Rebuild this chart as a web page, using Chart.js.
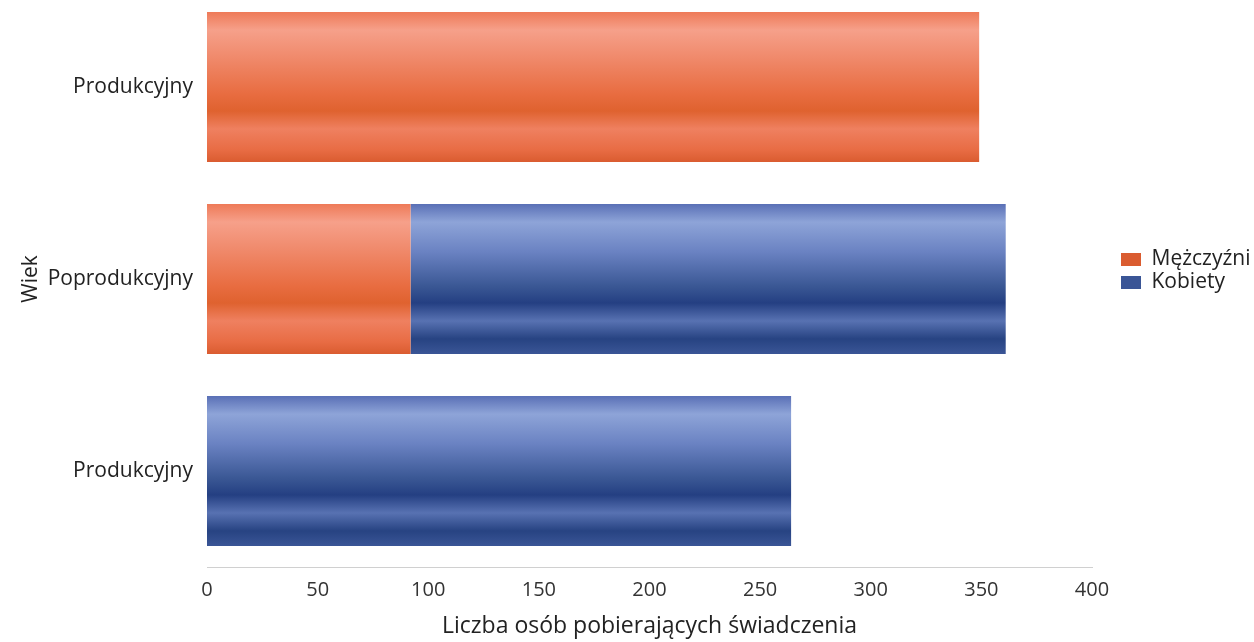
<!DOCTYPE html>
<html>
<head>
  <meta http-equiv="content-type" content="text/html; charset=utf-8"/>
  <script src="https://cdn.jsdelivr.net/npm/chart.js@4/dist/chart.umd.min.js"></script>
  <style>
    body { margin: 0; background: #fff; overflow: hidden; }
    #wrap { position: absolute; left: 0; top: -10px; width: 1264px; height: 652px; }
  </style>
</head>
<body>
<div id="wrap"><canvas id="chart"></canvas></div>

<script>
    const categories = ['Produkcyjny', 'Poprodukcyjny', 'Produkcyjny'];
    const men = [349, 92, 0];
    const women = [0, 269, 264];
    const xTicks = [0, 50, 100, 150, 200, 250, 300, 350, 400];

    // scanned bars have horizontal light/dark bands, fake them with a gradient per bar
    const orangeStops = [[0, '#ee7a58'], [0.12, '#f6a08a'], [0.3, '#f08a6c'], [0.55, '#e86c40'], [0.66, '#df622f'], [0.78, '#ef8060'], [0.92, '#e86c44'], [1, '#da5c30']];
    const blueStops = [[0, '#5a70b6'], [0.12, '#8ea4d8'], [0.32, '#6a82c2'], [0.55, '#3a5794'], [0.66, '#243f82'], [0.78, '#5872b2'], [0.9, '#274382'], [1, '#3a5596']];

    function bandFill(stops, flat) {
        return function (ctx) {
            const chart = ctx.chart;
            const y = chart.scales.y;
            if (!chart.chartArea || !y || ctx.dataIndex === undefined) return flat;
            const c = y.getPixelForValue(ctx.dataIndex);
            const half = (chart.chartArea.bottom - chart.chartArea.top) / categories.length * 0.78 / 2;
            const g = chart.ctx.createLinearGradient(0, c - half, 0, c + half);
            stops.forEach(s => g.addColorStop(s[0], s[1]));
            return g;
        };
    }

    const font = "'Open Sans', 'Noto Sans', sans-serif";

    new Chart(document.getElementById('chart'), {
        type: 'bar',
        data: {
            labels: categories,
            datasets: [
                { label: 'Mężczyźni', data: men, backgroundColor: bandFill(orangeStops, '#e8734c') },
                { label: 'Kobiety', data: women, backgroundColor: bandFill(blueStops, '#3d5799') }
            ]
        },
        options: {
            indexAxis: 'y',
            responsive: true,
            maintainAspectRatio: false,
            animation: false,
            layout: { padding: { left: 12, right: 0, top: 1, bottom: 0 } },
            datasets: { bar: { categoryPercentage: 0.78, barPercentage: 1 } },
            scales: {
                x: {
                    stacked: true,
                    min: 0,
                    max: 400,
                    afterBuildTicks: axis => { axis.ticks = xTicks.map(v => ({ value: v })); },
                    afterFit: s => { s.height = 75; s.paddingLeft = 0; s.paddingRight = 172; },
                    grid: { display: false, drawTicks: false },
                    border: { display: true, color: '#d0d0d0' },
                    ticks: { color: '#333', font: { family: font, size: 20 }, padding: 11 },
                    title: { display: true, text: 'Liczba osób pobierających świadczenia', color: '#222', font: { family: font, size: 23 }, padding: 2 }
                },
                y: {
                    stacked: true,
                    afterFit: s => { s.width = 195; s.paddingTop = 0; s.paddingBottom = 0; },
                    grid: { display: false, drawTicks: false },
                    border: { display: false },
                    ticks: { color: '#222', font: { family: font, size: 21 }, padding: 14 },
                    title: { display: true, text: 'Wiek', color: '#222', font: { family: font, size: 21 }, padding: 6 }
                },
                // blank axis, just leaves a gap between the plot and the legend
                gap: {
                    type: 'linear',
                    position: 'right',
                    grid: { display: false, drawTicks: false },
                    border: { display: false },
                    ticks: { display: false },
                    afterFit: s => { s.width = 27; s.paddingTop = 0; s.paddingBottom = 0; }
                }
            },
            plugins: {
                legend: {
                    position: 'right',
                    align: 'start',
                    // empty title only pushes the two entries down to mid height
                    title: { display: true, text: ' ', font: { size: 10 }, padding: { top: 244, bottom: 0 } },
                    labels: {
                        color: '#222',
                        font: { family: font, size: 21 },
                        boxWidth: 20,
                        boxHeight: 13,
                        padding: 2
                    }
                },
                tooltip: { enabled: false }
            }
        }
    });
</script>
</body>
</html>
